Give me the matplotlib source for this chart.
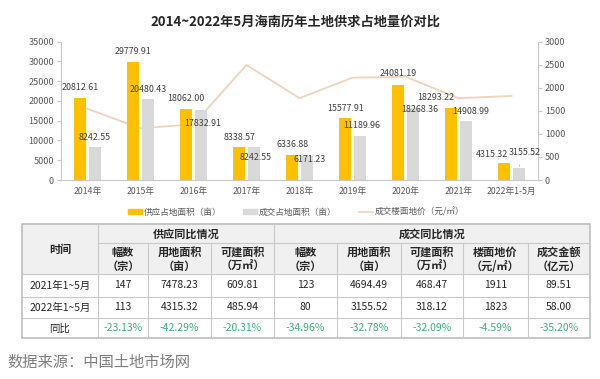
import numpy as np
import matplotlib
matplotlib.use('Agg')
import matplotlib.pyplot as plt
from matplotlib.patches import Rectangle
from matplotlib.lines import Line2D

plt.rcParams['font.family'] = ['Noto Sans CJK SC', 'DejaVu Sans']

# chart data
years = ['2014年', '2015年', '2016年', '2017年', '2018年', '2019年', '2020年', '2021年', '2022年1-5月']
supply = [20812.61, 29779.91, 18062.00, 8338.57, 6336.88, 15577.91, 24081.19, 18293.22, 4315.32]
deal = [8242.55, 20480.43, 17832.91, 8242.55, 6171.23, 11189.96, 18268.36, 14908.99, 3155.52]
price = [1545, 1120, 1210, 2495, 1775, 2220, 2240, 1775, 1823]

# table data
row_names = ['2021年1~5月', '2022年1~5月', '同比']
col_heads = ['幅数\n（宗）', '用地面积\n（亩）', '可建面积\n（万㎡）',
             '幅数\n（宗）', '用地面积\n（亩）', '可建面积\n（万㎡）',
             '楼面地价\n（元/㎡）', '成交金额\n（亿元）']
groups = ['供应同比情况', '成交同比情况']
row_2021 = ['147', '7478.23', '609.81', '123', '4694.49', '468.47', '1911', '89.51']
row_2022 = ['113', '4315.32', '485.94', '80', '3155.52', '318.12', '1823', '58.00']
row_yoy = ['-23.13%', '-42.29%', '-20.31%', '-34.96%', '-32.78%', '-32.09%', '-4.59%', '-35.20%']

YELLOW = '#FFC000'
GREY = '#D9D9D9'
LINEC = '#F2D3BA'
TXT = '#404040'

W, H = 600, 379
fig = plt.figure(figsize=(6, 3.79), dpi=100)

# label offsets in pixels (dx, dy up)
sup_off = [(0, 10), (0, 10.5), (0, 10), (0, 10), (0, 10), (0, 9.5), (0, 11), (-15, 10), (-12, 8)]
deal_off = [(0, 10), (0, 10), (2, -13.5), (1.5, -10), (2.5, -4), (1.5, 10), (6.5, -2), (4.5, 10), (5.5, 15)]

ax = fig.add_axes([61 / W, 1 - 180 / H, 477 / W, 138.3 / H])
ax.patch.set_alpha(0)
x = np.arange(len(years))
bw = 0.22
ax.bar(x - 0.14, supply, bw, color=YELLOW, zorder=2)
ax.bar(x + 0.14, deal, bw, color=GREY, zorder=2)
ax.set_xlim(-0.5, len(years) - 0.5)
ax.set_ylim(0, 35000)
ax.set_yticks(range(0, 35001, 5000))
ax.set_xticks(x)
ax.set_xticklabels(years)
for s in ['top', 'right']:
    ax.spines[s].set_visible(False)
for s in ['left', 'bottom']:
    ax.spines[s].set_color('#c8c8c8')
ax.tick_params(axis='y', labelsize=6.5, colors='#c8c8c8', labelcolor='#595959', length=3, pad=2)
ax.tick_params(axis='x', labelsize=6.3, length=0, labelcolor='#595959', pad=5)

ax2 = ax.twinx()
ax2.plot(x, price, color=LINEC, lw=1.3, zorder=1)
ax2.set_ylim(0, 3000)
ax2.set_yticks(range(0, 3001, 500))
for s in ['top', 'left', 'bottom']:
    ax2.spines[s].set_visible(False)
ax2.spines['right'].set_color('#c8c8c8')
ax2.tick_params(axis='y', labelsize=6.5, colors='#c8c8c8', labelcolor='#595959', length=3, pad=2)
ax.set_zorder(ax2.get_zorder() + 1)

for i in range(len(years)):
    dx, dy = sup_off[i]
    ax.annotate(f'{supply[i]:.2f}', xy=(x[i] - 0.14, supply[i]), xytext=(dx, dy),
                textcoords='offset pixels', ha='center', va='center', fontsize=6.4, color=TXT)
    dx, dy = deal_off[i]
    if i == len(years) - 1:
        ax.annotate(f'{deal[i]:.2f}', xy=(x[i] + 0.14, deal[i]), xytext=(dx, dy),
                    textcoords='offset pixels', ha='center', va='center', fontsize=6.4, color=TXT,
                    arrowprops=dict(arrowstyle='-', color='#a6a6a6', lw=0.6, shrinkA=4, shrinkB=1))
    else:
        ax.annotate(f'{deal[i]:.2f}', xy=(x[i] + 0.14, deal[i]), xytext=(dx, dy),
                    textcoords='offset pixels', ha='center', va='center', fontsize=6.4, color=TXT)

handles = [Rectangle((0, 0), 1, 1, color=YELLOW), Rectangle((0, 0), 1, 1, color=GREY),
           Line2D([0], [0], color=LINEC, lw=1.3)]
fig.legend(handles, ['供应占地面积（亩）', '成交占地面积（亩）', '成交楼面地价（元/㎡）'],
           loc='center', bbox_to_anchor=(296 / W, 1 - 212 / H), ncol=3, frameon=False,
           fontsize=6.2, handlelength=1.6, handleheight=0.5, handletextpad=0.2,
           columnspacing=2.6, labelcolor='#595959')

fig.text(295 / W, 1 - 22 / H, '2014~2022年5月海南历年土地供求占地量价对比',
         ha='center', va='center', fontsize=9.5, fontweight='bold', color='#262626')

# table drawn in pixel coordinates
tx = fig.add_axes([0, 0, 1, 1])
tx.set_xlim(0, W)
tx.set_ylim(H, 0)
tx.axis('off')
tx.patch.set_alpha(0)

cols = [22, 98, 148, 211, 274, 337, 401, 463, 528, 590]
rows_y = [224.3, 243.3, 274.3, 296.7, 318.3, 338.3]
bc = '#c9c9c9'
hdr = '#f0f0f0'
tx.add_patch(Rectangle((cols[0], rows_y[0]), cols[-1] - cols[0], rows_y[2] - rows_y[0],
                       facecolor=hdr, edgecolor='none'))
# grid lines
for yv in rows_y[2:5]:
    tx.plot([cols[0], cols[-1]], [yv, yv], color=bc, lw=0.8)
tx.plot([cols[1], cols[-1]], [rows_y[1], rows_y[1]], color=bc, lw=0.8)
for i, xv in enumerate(cols[1:-1], start=1):
    top = rows_y[0] if i in (1, 4) else rows_y[1]
    tx.plot([xv, xv], [top, rows_y[-1]], color=bc, lw=0.8)
tx.add_patch(Rectangle((cols[0], rows_y[0]), cols[-1] - cols[0], rows_y[-1] - rows_y[0],
                       facecolor='none', edgecolor='#bdbdbd', lw=1.2))

tx.text((cols[0] + cols[1]) / 2, (rows_y[0] + rows_y[2]) / 2, '时间', ha='center', va='center',
        fontsize=8, fontweight='bold', color='#262626')
tx.text((cols[1] + cols[4]) / 2, (rows_y[0] + rows_y[1]) / 2, groups[0], ha='center', va='center',
        fontsize=8, fontweight='bold', color='#262626')
tx.text((cols[4] + cols[9]) / 2, (rows_y[0] + rows_y[1]) / 2, groups[1], ha='center', va='center',
        fontsize=8, fontweight='bold', color='#262626')
for j, h in enumerate(col_heads):
    tx.text((cols[j + 1] + cols[j + 2]) / 2, (rows_y[1] + rows_y[2]) / 2 + 0.5, h, ha='center',
            va='center', fontsize=8, fontweight='bold', color='#262626', linespacing=1.05)

body = [row_2021, row_2022, row_yoy]
for r, (name, vals) in enumerate(zip(row_names, body)):
    yc = (rows_y[r + 2] + rows_y[r + 3]) / 2
    tx.text((cols[0] + cols[1]) / 2, yc, name, ha='center', va='center', fontsize=7.5, color='#262626')
    for j, v in enumerate(vals):
        c = '#3cb07c' if r == 2 else '#262626'
        tx.text((cols[j + 1] + cols[j + 2]) / 2, yc, v, ha='center', va='center', fontsize=7.5, color=c)

fig.text(7 / W, 1 - 362 / H, '数据来源：中国土地市场网', ha='left', va='center',
         fontsize=11, color='#7f7f7f')

fig.savefig('out.png', dpi=100)
